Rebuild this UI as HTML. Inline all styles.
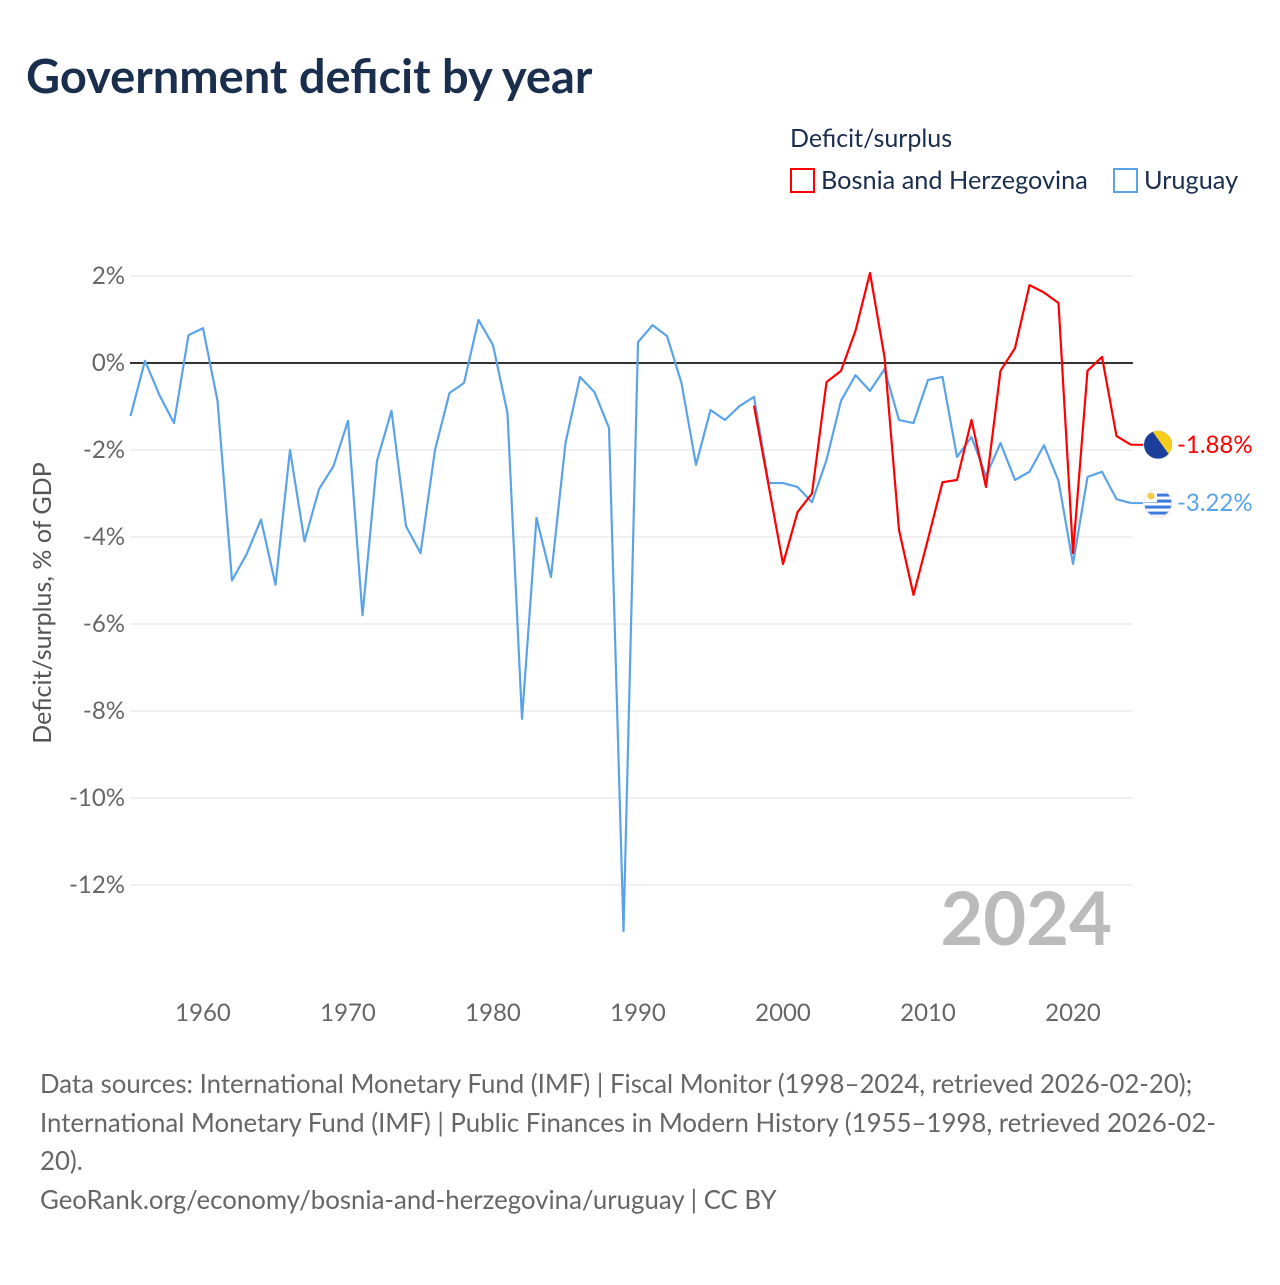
<!DOCTYPE html>
<html><head><meta charset="utf-8"><style>
body{margin:0;background:#fff;font-family:"Liberation Sans",sans-serif;}
svg text{font-family:"Lato","Liberation Sans",sans-serif;}
</style></head><body>
<svg id="c" width="1280" height="1280" viewBox="0 0 1280 1280">
<defs><clipPath id="fc"><circle id="fcc" cx="0" cy="0" r="14"/></clipPath></defs>
<text x="26" y="93" font-size="47" font-weight="bold" fill="#1a2e4e">Government deficit by year</text>
<text x="790" y="147" font-size="25" fill="#1a2e4e">Deficit/surplus</text>
<g><rect x="791" y="169" width="23" height="23" fill="none" stroke="#f00" stroke-width="2"/><text x="821" y="189" font-size="25.3" fill="#1a2e4e">Bosnia and Herzegovina</text></g>
<g><rect x="1114" y="169" width="23" height="23" fill="none" stroke="#5ba3e8" stroke-width="2"/><text x="1144" y="189" font-size="25.3" fill="#1a2e4e">Uruguay</text></g>
<g id="grid"></g><g id="lines"></g>
<text x="42" y="603" font-size="25" fill="#555" text-anchor="middle" dominant-baseline="central" transform="rotate(-90 42 603)">Deficit/surplus, % of GDP</text>
<text x="1112" y="945" font-size="74" font-weight="bold" fill="#bbb" text-anchor="end">2024</text>
<g font-size="25.8" fill="#666">
<text x="40" y="1093">Data sources: International Monetary Fund (IMF) | Fiscal Monitor (1998–2024, retrieved 2026-02-20);</text>
<text x="40" y="1132">International Monetary Fund (IMF) | Public Finances in Modern History (1955–1998, retrieved 2026-02-</text>
<text x="40" y="1170">20).</text>
<text x="40" y="1209">GeoRank.org/economy/bosnia-and-herzegovina/uruguay | CC BY</text>
</g>
</svg>
<script>
const yTicks=[2,0,-2,-4,-6,-8,-10,-12];
const xTicks=[1960,1970,1980,1990,2000,2010,2020];
const uyYears=[];for(let y=1955;y<=2024;y++)uyYears.push(y);
const uyValues=[-1.22,0.05,-0.74,-1.38,0.64,0.80,-0.87,-5.0,-4.4,-3.6,-5.1,-2.0,-4.1,-2.9,-2.37,-1.33,-5.8,-2.25,-1.1,-3.75,-4.37,-2.0,-0.69,-0.46,0.99,0.41,-1.15,-8.18,-3.56,-4.92,-1.84,-0.32,-0.67,-1.49,-13.06,0.48,0.87,0.62,-0.46,-2.34,-1.08,-1.31,-0.99,-0.78,-2.76,-2.76,-2.85,-3.2,-2.23,-0.87,-0.28,-0.64,-0.14,-1.31,-1.38,-0.39,-0.32,-2.16,-1.70,-2.6,-1.84,-2.69,-2.5,-1.89,-2.71,-4.62,-2.62,-2.5,-3.13,-3.22];
const baYears=[];for(let y=1998;y<=2024;y++)baYears.push(y);
const baValues=[-0.98,-2.8,-4.62,-3.43,-3.0,-0.44,-0.18,0.74,2.07,0.14,-3.84,-5.33,-4.05,-2.74,-2.69,-1.31,-2.85,-0.18,0.34,1.79,1.62,1.38,-4.37,-0.18,0.14,-1.68,-1.88];
const NS='http://www.w3.org/2000/svg';
const X=y=>130.5+(y-1955)*(1131-130.5)/69;
const Y=v=>363-v*43.5;
const grid=document.getElementById('grid'),lines=document.getElementById('lines');
function mk(t,a,p){const e=document.createElementNS(NS,t);for(const k in a)e.setAttribute(k,a[k]);p.appendChild(e);return e;}
yTicks.forEach(v=>{
 const l=mk('line',{x1:130,x2:1133,y1:Y(v),y2:Y(v),stroke:v===0?'#333':'#e8e8e8','stroke-width':v===0?2:1.3},grid);
 
 
 const t=mk('text',{x:125,y:Y(v)+8,'font-size':24,fill:'#666','text-anchor':'end'},grid);
 t.textContent=v+'%';
 
 
});
xTicks.forEach(yr=>{
 const t=mk('text',{x:X(yr),y:1021,'font-size':24,fill:'#666','text-anchor':'middle'},grid);
 t.textContent=yr;
 
 
});
function series(ys,vs,col,name){
 const p=mk('polyline',{points:ys.map((y,i)=>X(y)+','+Y(vs[i])).join(' '),fill:'none',stroke:col,'stroke-width':2.2,'stroke-linejoin':'round'},lines);
 
 
}
series(uyYears,uyValues,'#5ba3e8','uruguay-line');
series(baYears,baValues,'#f00','bosnia-line');
function endLabel(ys,vs,col,name,flag){
 const v=vs[vs.length-1],x=X(ys[ys.length-1]),y=Y(v);
 mk('line',{x1:x,x2:x+12,y1:y,y2:y,stroke:col,'stroke-width':2},lines);
 const g=mk('g',{},lines);
 
 
 const cx=x+27;
 const f=mk('g',{transform:`translate(${cx},${y})`,'clip-path':'url(#fc)'},g);
 if(flag==='ba'){
  mk('rect',{x:-14,y:-14,width:28,height:28,fill:'#1d3f9c'},f);
  mk('path',{d:'M-6 -14L14 -14L14 14Z',fill:'#f7cc1a'},f);
 }else{
  mk('rect',{x:-14,y:-14,width:28,height:28,fill:'#fff'},f);
  [-8,-2,4,10].forEach(d=>mk('rect',{x:-14,y:d-1.5,width:28,height:3,fill:'#3a7be0'},f));
  mk('rect',{x:-14,y:-14,width:13,height:13,fill:'#fff'},f);
  mk('circle',{cx:-7,cy:-7,r:3.5,fill:'#f5c84a'},f);
  mk('circle',{cx:cx,cy:y,r:14,fill:'none',stroke:'#e6e6e6','stroke-width':1},g);
 }
 const t=mk('text',{x:cx+19,y:y+8,'font-size':24,fill:col},g);
 t.textContent=v.toFixed(2)+'%';
}
endLabel(baYears,baValues,'#f00','bosnia-end-label','ba');
endLabel(uyYears,uyValues,'#5ba3e8','uruguay-end-label','uy');
</script>
</body></html>
